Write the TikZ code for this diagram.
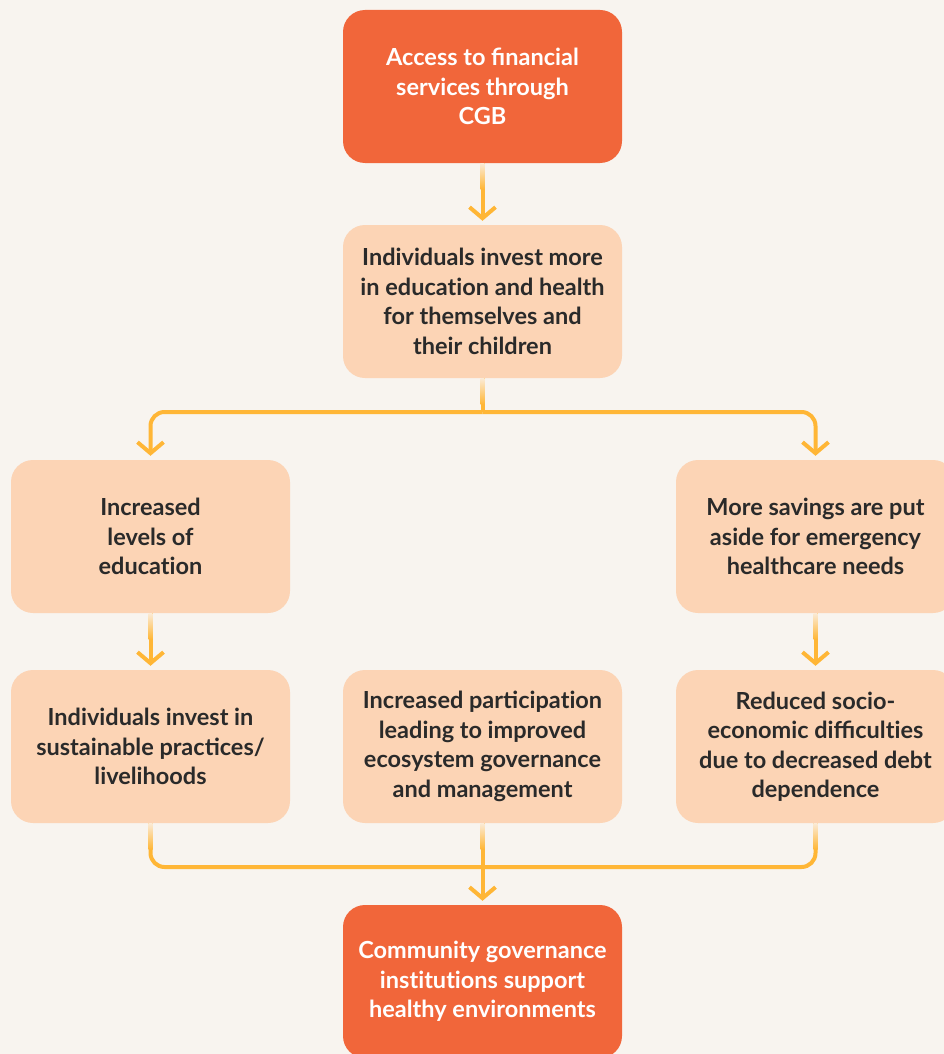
\documentclass[tikz,border=0pt]{standalone}
\usepackage{fontspec}
\setmainfont{Lato}
\usetikzlibrary{arrows.meta,calc}
\definecolor{bgc}{HTML}{F8F4EF}
\definecolor{darkor}{HTML}{F1663A}
\definecolor{peach}{HTML}{FCD4B5}
\definecolor{arrowy}{HTML}{FFB636}
\definecolor{fadey}{HTML}{FBEBD6}
\definecolor{txt}{HTML}{2A2A2A}
\newcommand{\nolg}{\kern0pt}
\tikzset{
  box/.style={rounded corners=22pt, minimum width=279pt, minimum height=153pt,
    inner sep=0pt, align=center, font=\fontsize{23.5}{29.5}\selectfont\bfseries},
  mainbox/.style={box, fill=darkor, text=white},
  subbox/.style={box, fill=peach, text=txt},
  conn/.style={draw=arrowy, line width=4pt},
  arr/.style={conn, -{Straight Barb[length=11pt,width=26pt,line width=4pt]}, shorten >=4pt},
}
\newcommand{\fadestart}[1]{\shade[top color=fadey, bottom color=arrowy] ($(#1.south)+(-2,0)$) rectangle ($(#1.south)+(2,26)$);}
\begin{document}
\begin{tikzpicture}[x=1pt,y=-1pt]
\fill[bgc] (0,0) rectangle (944,1054);
\useasboundingbox (0,0) rectangle (944,1054);
\clip (0,0) rectangle (944,1054);

\node[mainbox] (top) at (482.5,86.5) {Access to financial\\services through\\CGB};
\node[subbox] (inv) at (482.5,301.5) {Individuals invest more\\in educat\nolg ion and health\\for themselves and\\their children};
\node[subbox] (edu) at (150.5,536.5) {Increased\\levels of\\educat\nolg ion};
\node[subbox] (sav) at (815.5,536.5) {More savings are put\\aside for emergency\\healthcare needs};
\node[subbox] (sus) at (150.5,746.5) {Individuals invest in\\sustainable practices/\\livelihoods};
\node[subbox] (par) at (482.5,746.5) {Increased participat\nolg ion\\leading to improved\\ecosystem governance\\and management};
\node[subbox] (red) at (815.5,746.5) {Reduced socio-\\economic difficult\nolg ies\\due to decreased debt\\dependence};
\node[mainbox] (com) at (482.5,981.5) {Community governance\\inst\nolg itut\nolg ions support\\healthy environments};

\coordinate (split) at (482.5,412);
\coordinate (merge) at (482.5,867);

% connectors
\draw[arr] (top.south) -- (inv.north);
\draw[conn] (inv.south) -- (split);
\draw[arr, rounded corners=14pt] (split) -| (edu.north);
\draw[arr, rounded corners=14pt] (split) -| (sav.north);
\draw[arr] (edu.south) -- (sus.north);
\draw[arr] (sav.south) -- (red.north);
\draw[conn, rounded corners=14pt] (sus.south) |- (merge);
\draw[conn, rounded corners=14pt] (red.south) |- (merge);
\draw[arr] (par.south) -- (com.north);

% fading starts
\fadestart{top}
\fadestart{inv}
\fadestart{edu}
\fadestart{sav}
\fadestart{sus}
\fadestart{par}
\fadestart{red}
\end{tikzpicture}
\end{document}
